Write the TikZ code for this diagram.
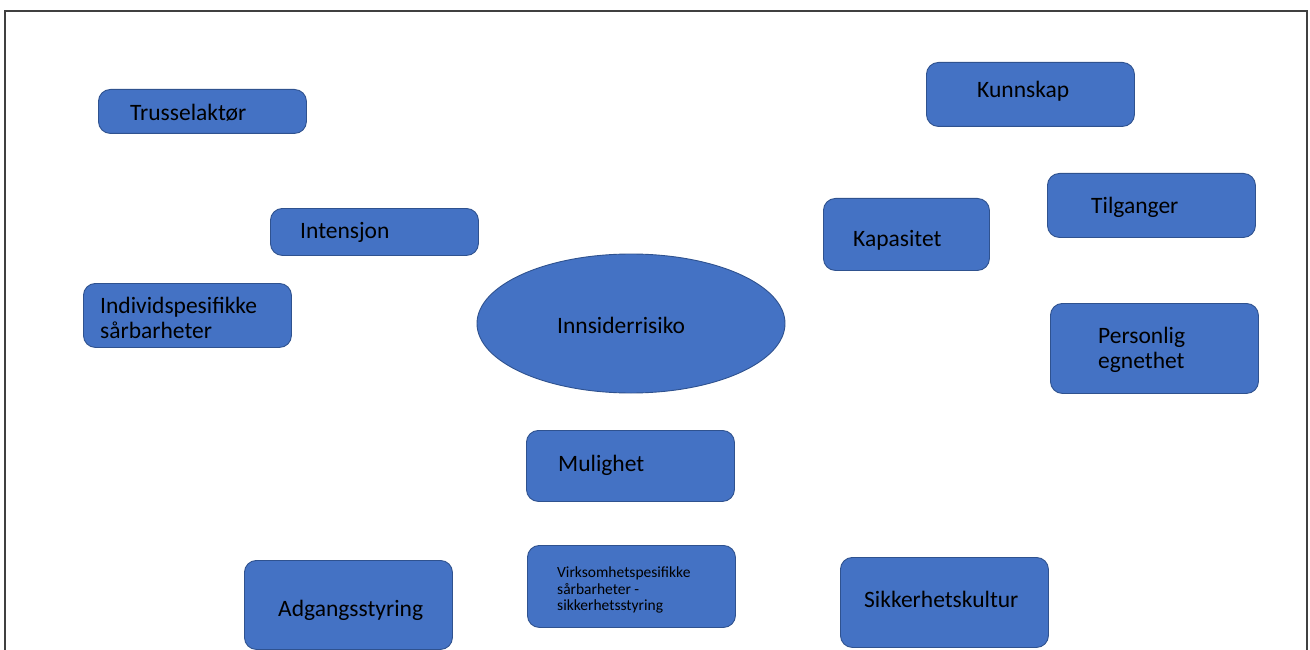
\documentclass[tikz,border=0pt]{standalone}
\usepackage{fontspec}
\setmainfont{Carlito}
\usetikzlibrary{shapes.geometric}
\definecolor{boxfill}{HTML}{4472C4}
\definecolor{boxline}{HTML}{2F528F}
\definecolor{framegray}{HTML}{404040}
\tikzset{
  card/.style={draw=boxline, fill=boxfill, line width=0.9pt, rounded corners=12pt,
    inner sep=0pt, anchor=north west},
  lbl/.style={inner sep=0pt, anchor=base west, text=black, font=\fontsize{23.5}{24}\selectfont},
  lblm/.style={inner sep=0pt, anchor=west, align=left, text=black, font=\fontsize{23.5}{25}\selectfont},
  lbls/.style={inner sep=0pt, anchor=west, align=left, text=black, font=\fontsize{15.5}{16.5}\selectfont},
}
\newcommand{\cardat}[5]{% name, x1, y1, x2, y2
  \node[card, minimum width=#4-#2, minimum height=#5-#3] (#1) at (#2,#3) {};}
\begin{document}
\begin{tikzpicture}[x=1pt,y=-1pt]
  \useasboundingbox (0,0) rectangle (1310,650);
  \clip (0,0) rectangle (1310,650);
  % outer frame, open at the bottom edge
  \draw[framegray, line width=1.5pt] (5,662) -- (5,11) -- (1307,11) -- (1307,662);

  % boxes
  \cardat{truss}{98}{89}{306}{133}
  \cardat{kunn}{926}{62}{1134}{126}
  \cardat{tilg}{1047}{173}{1255}{237}
  \cardat{inten}{270}{208}{478}{255}
  \cardat{kapa}{823}{198}{989}{270}
  \cardat{indiv}{83}{283}{291}{347}
  \cardat{pers}{1050}{303}{1258}{393}
  \cardat{mulig}{526}{430}{734}{501}
  \cardat{virk}{527}{545}{735}{627}
  \cardat{adg}{244}{560}{452}{649}
  \cardat{sikk}{840}{557}{1048}{647}

  % central ellipse
  \node[ellipse, draw=boxline, fill=boxfill, line width=0.9pt, inner sep=0pt,
    minimum width=308pt, minimum height=139pt] (risk) at (631,323.5) {};

  % labels
  \node[lbl] (ttruss) at (130,121) {Trusselaktør};
  \node[lbl] (tkunn) at (977,98) {Kunnskap};
  \node[lbl] (ttilg) at (1091,214) {Tilganger};
  \node[lbl] (tinten) at (300,238) {Intensjon};
  \node[lbl] (tkapa) at (853,246) {Kapasitet};
  \node[lblm] (tindiv) at (100,318) {Individspesifikke\\sårbarheter};
  \node[lbl] (trisk) at (557,333) {Innsiderrisiko};
  \node[lblm] (tpers) at (1098,349.5) {Personlig\\egnethet};
  \node[lbl] (tmulig) at (558,471) {Mulighet};
  \node[lbls] (tvirk) at (557,590) {Virksomhetspesifikke\\sårbarheter -\\sikkerhetsstyring};
  \node[lbl] (tadg) at (278,616) {Adgangsstyring};
  \node[lbl] (tsikk) at (864,607) {Sikkerhetskultur};
\end{tikzpicture}
\end{document}
